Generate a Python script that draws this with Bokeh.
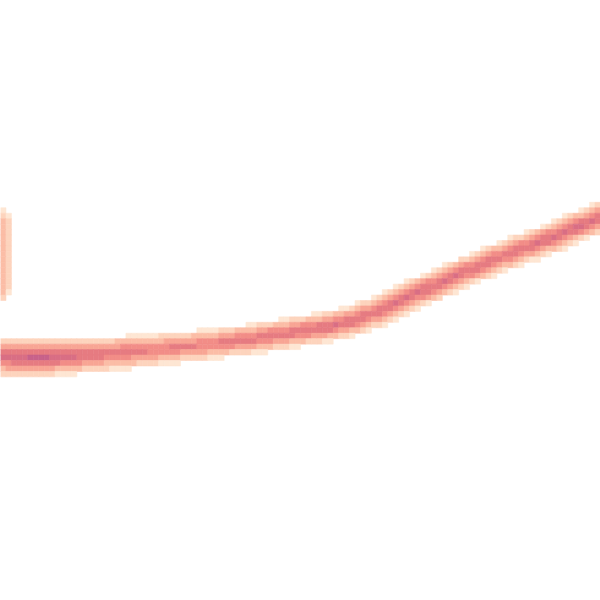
import numpy as np
from bokeh.plotting import figure
from bokeh.models import Range1d
from bokeh.embed import file_html
from bokeh.resources import INLINE

# Centre line of the main trace (pixel units of the original image)
curve_x = [-5, 40, 100, 150, 200, 250, 300, 330, 355, 380, 410, 450, 500, 550, 605]
curve_y = [356, 357, 354, 350, 345, 339, 331, 326, 320, 310, 296, 278, 257, 238, 215]
curve_strength = [0.86, 0.96, 0.8, 0.74, 0.72, 0.78, 0.8, 0.84, 0.82, 0.8, 0.84, 0.84, 0.8, 0.84, 0.86]
curve_halfwidth = [21, 21, 18, 17, 16, 16, 16, 16, 16, 16, 16, 16, 16, 16, 16]

# Small trace cut by the left edge
blob_x = [-6, -6]
blob_y = [224, 286]
blob_strength = [0.7, 0.7]
blob_halfwidth = [19, 19]

palette = ["#fee6d3", "#fdd4bd", "#fbbda6", "#f8a594", "#f28d87", "#e67b81", "#d96e84", "#c8628a"]
level_edges = [0.05, 0.18, 0.32, 0.46, 0.58, 0.7, 0.82, 0.93]

n_cells = 110
extent = 600.0


def trace_level(px, py, xs, ys, ss, hs):
    xs = np.asarray(xs, float); ys = np.asarray(ys, float)
    ss = np.asarray(ss, float); hs = np.asarray(hs, float)
    best = np.zeros_like(px)
    for i in range(len(xs) - 1):
        ax, ay, bx, by = xs[i], ys[i], xs[i + 1], ys[i + 1]
        dx, dy = bx - ax, by - ay
        L2 = dx * dx + dy * dy
        t = np.clip(((px - ax) * dx + (py - ay) * dy) / L2, 0, 1)
        cx, cy = ax + t * dx, ay + t * dy
        d = np.hypot(px - cx, py - cy)
        s = ss[i] + t * (ss[i + 1] - ss[i])
        h = hs[i] + t * (hs[i + 1] - hs[i])
        r = np.clip(d / h, 0, 1)
        lv = s * (1 - r ** 1.3)
        best = np.maximum(best, lv)
    return best


cell = extent / n_cells
idx = np.arange(n_cells)
cx, cy = np.meshgrid((idx + 0.5) * cell, (idx + 0.5) * cell)
lvl = np.maximum(
    trace_level(cx, cy, curve_x, curve_y, curve_strength, curve_halfwidth),
    trace_level(cx, cy, blob_x, blob_y, blob_strength, blob_halfwidth),
)

left, right, top, bottom, colors = [], [], [], [], []
for j in range(n_cells):
    for i in range(n_cells):
        v = lvl[j, i]
        if v < level_edges[0]:
            continue
        k = int(np.searchsorted(level_edges, v, side="right")) - 1
        left.append(i * cell); right.append((i + 1) * cell)
        top.append(j * cell); bottom.append((j + 1) * cell)
        colors.append(palette[k])

p = figure(width=600, height=600, output_backend="svg", toolbar_location=None,
           x_range=Range1d(0, 600), y_range=Range1d(600, 0),
           min_border=0, outline_line_color=None)
p.axis.visible = False
p.grid.visible = False
p.background_fill_color = "white"
p.border_fill_color = "white"
p.quad(left=left, right=right, top=top, bottom=bottom,
       fill_color=colors, line_color=colors, line_width=0.6)

open("out.html", "w").write(file_html(p, INLINE))
